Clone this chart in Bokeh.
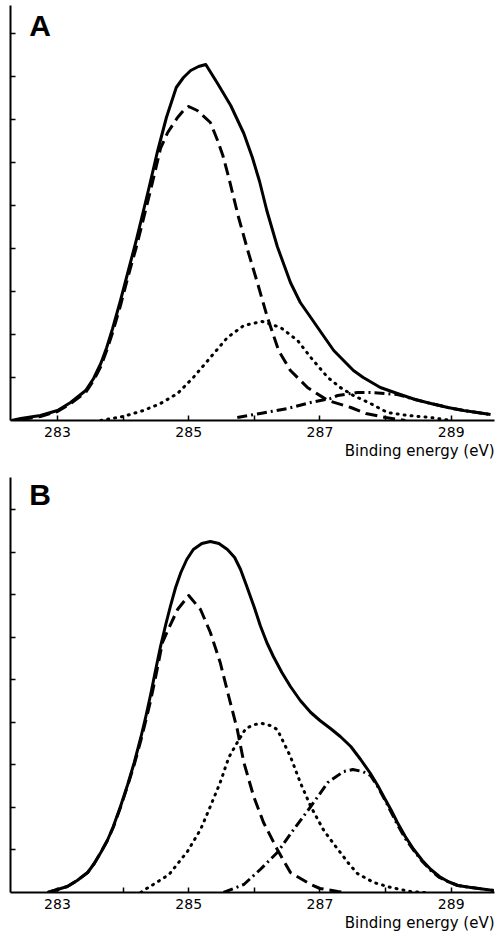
from bokeh.plotting import figure
from bokeh.layouts import column
from bokeh.models import Range1d, FixedTicker, Label, Title
from bokeh.embed import file_html
from bokeh.resources import INLINE

# ---------------- data (binding energy eV, intensity a.u.) ----------------
# Panel A
a_sum_x = [282.30, 282.44, 282.74, 283.00, 283.20, 283.43, 283.55, 283.66, 283.75, 283.84, 283.96,
           284.08, 284.20, 284.30, 284.41, 284.52, 284.66, 284.81, 284.92, 285.03, 285.15, 285.26,
           285.44, 285.64, 285.84, 285.97, 286.08, 286.19, 286.35, 286.55, 286.70, 286.86, 287.05,
           287.21, 287.36, 287.51, 287.66, 287.92, 288.18, 288.45, 288.69, 288.95, 289.19, 289.60]
a_sum_y = [0, 2, 5, 10, 18, 30, 42, 57, 73, 92, 120,
           150, 180, 207, 237, 268, 303, 333, 343, 350, 354, 356,
           337, 315, 287, 263, 239, 210, 174, 138, 118, 103, 85,
           70, 60, 50, 43, 33, 27, 21, 17, 13, 10, 6]

a_cc_x = [282.44, 282.74, 283.00, 283.20, 283.43, 283.55, 283.66, 283.75, 283.84, 283.96, 284.08,
          284.20, 284.30, 284.41, 284.52, 284.57, 284.68, 284.83, 284.92, 285.00, 285.13, 285.33,
          285.44, 285.52, 285.61, 285.76, 285.90, 286.05, 286.20, 286.37, 286.55, 286.81, 287.12,
          287.47, 287.70, 288.00, 288.30]
a_cc_y = [1, 4, 9, 17, 28, 40, 54, 70, 88, 115, 145,
          173, 199, 228, 258, 272, 288, 303, 310, 314, 310, 298,
          280, 265, 243, 203, 170, 137, 103, 70, 50, 33, 20,
          13, 7, 3, 0]

a_co_x = [283.66, 284.00, 284.31, 284.57, 284.83, 285.07, 285.33, 285.59, 285.84, 286.12, 286.40,
          286.66, 286.86, 287.12, 287.31, 287.51, 287.77, 288.03, 288.34, 288.69, 289.00]
a_co_y = [0, 4, 10, 17, 27, 43, 63, 83, 95, 99, 93,
          80, 63, 43, 33, 25, 17, 8, 5, 3, 0]

a_coo_x = [285.74, 286.09, 286.51, 286.86, 287.16, 287.27, 287.47, 287.57, 287.77, 288.00, 288.18,
           288.45, 288.69, 288.95, 289.19, 289.60]
a_coo_y = [3, 7, 12, 18, 22, 25, 27, 28, 28, 27, 26,
           21, 17, 13, 10, 6]

# Panel B
b_sum_x = [282.85, 283.15, 283.30, 283.46, 283.56, 283.66, 283.76, 283.85, 283.96, 284.07, 284.17,
           284.27, 284.35, 284.42, 284.50, 284.57, 284.65, 284.72, 284.80, 284.88, 284.97, 285.07,
           285.20, 285.33, 285.46, 285.59, 285.70, 285.79, 285.88, 286.00, 286.09, 286.19, 286.29,
           286.42, 286.55, 286.70, 286.86, 287.00, 287.16, 287.31, 287.47, 287.62, 287.77, 287.88,
           287.97, 288.08, 288.18, 288.30, 288.43, 288.56, 288.69, 288.82, 288.95, 289.10, 289.30,
           289.65]
b_sum_y = [0, 6, 12, 20, 29, 40, 52, 66, 86, 108, 130,
           155, 177, 198, 224, 246, 268, 286, 305, 320, 333, 343,
           349, 351, 349, 343, 335, 323, 307, 285, 267, 250, 236,
           220, 206, 192, 180, 172, 164, 156, 146, 133, 119, 107,
           96, 83, 70, 56, 43, 32, 23, 16, 11, 7, 5,
           2]

b_cc_x = [282.85, 283.15, 283.30, 283.46, 283.56, 283.66, 283.76, 283.85, 283.96, 284.07, 284.17,
          284.27, 284.35, 284.42, 284.50, 284.60, 284.68, 284.83, 285.00, 285.18, 285.33, 285.48,
          285.61, 285.74, 285.84, 285.99, 286.14, 286.35, 286.55, 286.86, 287.00, 287.27, 287.40]
b_cc_y = [0, 6, 12, 20, 29, 40, 52, 65, 85, 107, 128,
          152, 173, 192, 217, 250, 262, 283, 297, 283, 260, 230,
          196, 163, 130, 96, 70, 43, 20, 8, 4, 1, 0]

b_co_x = [284.27, 284.31, 284.46, 284.70, 284.98, 285.18, 285.31, 285.48, 285.61, 285.74, 285.87,
          286.00, 286.12, 286.24, 286.35, 286.55, 286.70, 286.86, 287.05, 287.16, 287.31, 287.45,
          287.57, 287.82, 288.08, 288.38, 288.60]
b_co_y = [0, 2, 8, 18, 41, 63, 83, 110, 135, 150, 164,
          168, 169, 167, 163, 136, 110, 86, 63, 53, 40, 28,
          19, 10, 5, 1, 0]

b_coo_x = [285.53, 285.84, 286.09, 286.35, 286.60, 286.86, 287.12, 287.36, 287.50, 287.65, 287.77,
           287.88, 287.97, 288.08, 288.18, 288.30, 288.43, 288.56, 288.69, 288.82, 288.95, 289.10,
           289.30, 289.65]
b_coo_y = [0, 8, 23, 40, 63, 86, 110, 121, 123, 121, 117,
           106, 95, 81, 68, 54, 42, 31, 22, 15, 11, 7,
           5, 2]

x_ticks = [283, 284, 285, 286, 287, 288, 289]
x_tick_labels = {283: "283", 284: "", 285: "285", 286: "", 287: "287", 288: "", 289: "289"}
x_label = "Binding energy (eV)"

A_TICK = 43.0
B_TICK = 42.56
n_y_ticks = 9

FONT = "DejaVu Sans"


def make_panel(letter, tick, ytop, height, top_border, bottom_border,
               sx, sy, cx, cy, ox, oy, dx, dy, label_y):
    p = figure(width=497, height=height, output_backend="svg", toolbar_location=None,
               x_range=Range1d(282.284, 289.66), y_range=Range1d(0, ytop),
               min_border_left=10, min_border_right=3, min_border_top=top_border,
               min_border_bottom=bottom_border)
    p.outline_line_color = None
    p.xgrid.visible = False
    p.ygrid.visible = False
    p.background_fill_color = "white"
    p.border_fill_color = "white"

    xa = p.xaxis[0]
    xa.ticker = FixedTicker(ticks=x_ticks)
    xa.major_label_overrides = {k: v for k, v in x_tick_labels.items()}
    xa.minor_tick_line_color = None
    xa.major_tick_in = 5
    xa.major_tick_out = 0
    xa.major_tick_line_width = 1.5
    xa.axis_line_width = 2
    xa.major_label_standoff = 6
    xa.major_label_text_font = FONT
    xa.major_label_text_font_size = "14px"
    xa.major_label_text_color = "black"

    ya = p.yaxis[0]
    yt = [tick * k for k in range(1, n_y_ticks + 1)]
    ya.ticker = FixedTicker(ticks=yt)
    ya.major_label_overrides = {t: "" for t in yt}
    ya.major_label_standoff = 0
    ya.major_label_text_font_size = "1px"
    ya.minor_tick_line_color = None
    ya.major_tick_in = 5
    ya.major_tick_out = 0
    ya.major_tick_line_width = 1.5
    ya.axis_line_width = 2

    p.add_layout(Title(text=x_label, align="right", text_font=FONT, text_font_size="15px",
                       text_font_style="normal", text_color="black", standoff=0), "below")

    p.line(sx, sy, line_width=3, color="black", line_join="round")
    p.line(cx, cy, line_width=3, color="black", line_dash="12 6", line_join="round")
    p.line(ox, oy, line_width=3, color="black", line_dash="1 6", line_cap="round")
    p.line(dx, dy, line_width=3, color="black", line_dash="10 4 2 4", line_join="round")

    p.add_layout(Label(x=282.57, y=label_y, text=letter, text_font="Liberation Sans",
                       text_font_style="bold", text_font_size="30px", text_baseline="top",
                       text_color="black"))
    return p


pa = make_panel("A", A_TICK, 415, 469, 5, 49,
                a_sum_x, a_sum_y, a_cc_x, a_cc_y, a_co_x, a_co_y, a_coo_x, a_coo_y, 412)
pb = make_panel("B", B_TICK, 415, 472, 8, 49,
                b_sum_x, b_sum_y, b_cc_x, b_cc_y, b_co_x, b_co_y, b_coo_x, b_coo_y, 415)

layout = column(pa, pb, spacing=0)
open("out.html", "w").write(file_html(layout, INLINE))
